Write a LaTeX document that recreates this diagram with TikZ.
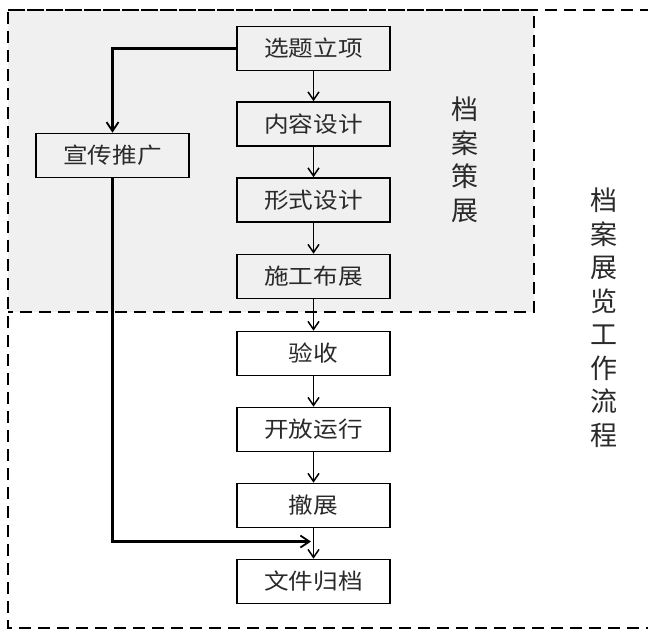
\documentclass[tikz,border=0pt]{standalone}
\usepackage{fontspec}
\newfontfamily\cjk{Noto Sans CJK SC}[FakeStretch=1.12]
\newfontfamily\cjkv{Noto Sans CJK SC}
\usetikzlibrary{arrows.meta}
\definecolor{txt}{HTML}{2A2A2A}
\definecolor{panel}{HTML}{F0F0F0}
\tikzset{
  stepbox/.style={draw=black, line width=1.6pt, minimum width=153pt, minimum height=44pt,
    inner sep=0pt, font=\cjk\fontsize{22}{26}\selectfont, text=txt},
  flow/.style={draw=black, line width=1.5pt, -{Straight Barb[length=8pt,width=11pt,line width=1.5pt]}},
  feed/.style={draw=black, line width=2.6pt, -{Straight Barb[length=9pt,width=12pt,line width=1.8pt]}},
  border/.style={draw=black, line width=2.8pt, dash pattern=on 12pt off 7pt},
  vlabel/.style={align=center, inner sep=0pt, text=txt, font=\cjkv\fontsize{27}{33.5}\selectfont}
}
\begin{document}
\begin{tikzpicture}[x=1pt,y=-1pt]
\useasboundingbox (0,0) rectangle (648,633);
\fill[white] (0,0) rectangle (648,633);
\fill[panel] (8,10) rectangle (534,312);
% nodes
\node[stepbox] (n1) at (313.5,48.5) {选题立项};
\node[stepbox] (n2) at (313.5,124) {内容设计};
\node[stepbox] (n3) at (313.5,200) {形式设计};
\node[stepbox] (n4) at (313.5,276.5) {施工布展};
\node[stepbox] (n5) at (313.5,353.5) {验收};
\node[stepbox] (n6) at (313.5,429.5) {开放运行};
\node[stepbox] (n7) at (313.5,505.5) {撤展};
\node[stepbox] (n8) at (313.5,581.5) {文件归档};
\node[stepbox] (xc) at (112.5,155.5) {宣传推广};
\node[vlabel] (l1) at (465,159.5) {档\\案\\策\\展};
\node[vlabel] (l2) at (604,317.5) {档\\案\\展\\览\\工\\作\\流\\程};
% borders
\draw[border] (8,10) -- (534,10) -- (534,312) -- (8,312);
\draw[border] (652,10) -- (8,10) -- (8,628) -- (652,628);
% connectors
\draw[flow] (n1) -- (n2);
\draw[flow] (n2) -- (n3);
\draw[flow] (n3) -- (n4);
\draw[flow] (n4) -- (n5);
\draw[flow] (n5) -- (n6);
\draw[flow] (n6) -- (n7);
\draw[flow] (n7) -- (n8);
\coordinate (fb) at (311,541.5);
\draw[feed] (n1.west) -| (xc.north);
\draw[feed] (xc.south) |- (fb);
\end{tikzpicture}
\end{document}
